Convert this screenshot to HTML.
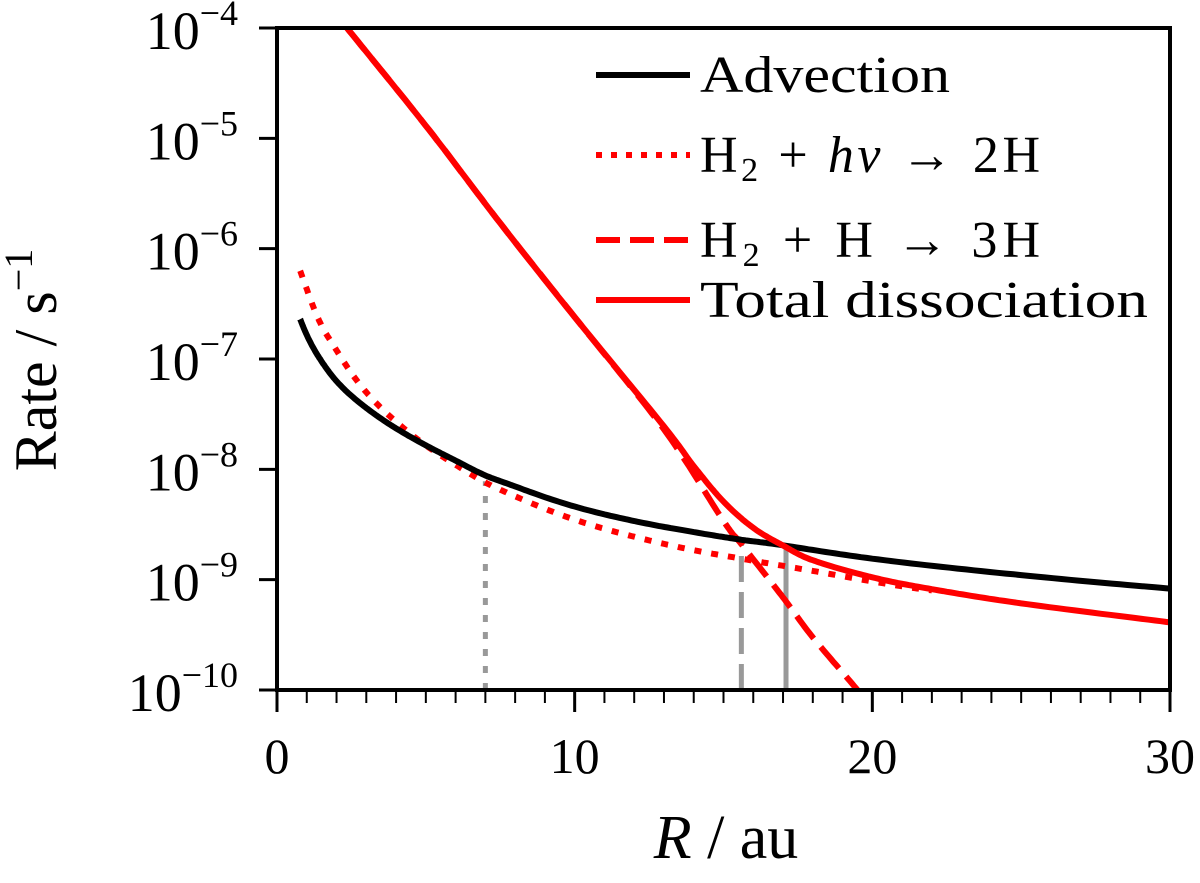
<!DOCTYPE html>
<html><head><meta charset="utf-8"><style>
body{margin:0;background:#fff}
svg text{font-family:"Liberation Serif",serif;fill:#000}
</style></head><body>
<svg id="c" width="1200" height="878" viewBox="0 0 1200 878" xmlns="http://www.w3.org/2000/svg">
<defs><clipPath id="clip"><rect x="276" y="27" width="895" height="663"/></clipPath></defs>
<g id="plot" clip-path="url(#clip)"></g>
<g id="axes"></g>
<g id="legend">
 <line x1="596" y1="75" x2="690" y2="75" stroke="#000" stroke-width="6"/>
 <text x="700" y="92" font-size="52" textLength="250" lengthAdjust="spacingAndGlyphs">Advection</text>
 <line x1="596" y1="155" x2="690" y2="155" stroke="#f00" stroke-width="6" stroke-dasharray="6,9"/>
 <text x="700" y="172" font-size="52" textLength="340" lengthAdjust="spacing">H<tspan font-size="34" dy="9">2</tspan><tspan dy="-9"> + </tspan><tspan font-style="italic">hν</tspan> → 2H</text>
 <line x1="596" y1="240" x2="690" y2="240" stroke="#f00" stroke-width="6" stroke-dasharray="24,10"/>
 <text x="700" y="257" font-size="52" textLength="340" lengthAdjust="spacing">H<tspan font-size="34" dy="9">2</tspan><tspan dy="-9"> + H → 3H</tspan></text>
 <line x1="596" y1="300" x2="690" y2="300" stroke="#f00" stroke-width="6"/>
 <text x="700" y="317" font-size="52" textLength="448" lengthAdjust="spacingAndGlyphs">Total dissociation</text>
</g>
</svg>
<script>
const advR=[0.78,1,1.5,2,3,4,5,6,7,8,10,12,14,15.6,17,20,25,30];
const advV=[2.3e-7,1.65e-7,9.5e-8,6.3e-8,3.6e-8,2.35e-8,1.65e-8,1.2e-8,8.8e-9,7.0e-9,4.6e-9,3.4e-9,2.7e-9,2.3e-9,2.05e-9,1.55e-9,1.1e-9,8.3e-10];
const phoR=[0.78,1,1.5,2,3,4,5,6,7,8,10,12,14,15.6,18,21,22];
const phoV=[6.3e-7,4.3e-7,2.0e-7,1.2e-7,5e-8,2.7e-8,1.65e-8,1.1e-8,7.6e-9,5.7e-9,3.5e-9,2.45e-9,1.85e-9,1.55e-9,1.2e-9,8.7e-10,8e-10];
const colR=[2.35,5,7.5,10,13,15,15.6,17,18,19.5,20];
const colV=[1e-4,1.3e-5,1.7e-6,2.4e-7,2.3e-8,3.4e-9,2.1e-9,6.9e-10,3e-10,1e-10,6.5e-11];
const totR=[2.35,5,7.5,10,13,14,15,16,17,18,20,22,25,30];
const totV=[1e-4,1.3e-5,1.7e-6,2.4e-7,2.45e-8,1.07e-8,5.1e-9,2.95e-9,2.04e-9,1.5e-9,1.05e-9,8.2e-10,6.1e-10,4.1e-10];
const markR=[7,15.6,17.1];
const markV=[7.8e-9,2.15e-9,2.0e-9];
const xTicks=[0,10,20,30];
const yTicks=[-4,-5,-6,-7,-8,-9,-10];

const NS="http://www.w3.org/2000/svg";
const X0=277,X1=1170,Y0=690,Y1=28;
function xs(r){return X0+(X1-X0)*r/30;}
function ys(v){return Y1+(-4-Math.log10(v))*(Y0-Y1)/6;}
function mk(t,a,p){const e=document.createElementNS(NS,t);for(const k in a)e.setAttribute(k,a[k]);p.appendChild(e);return e;}
function pathD(R,V,logx){
 const fx=logx?Math.log:(r=>r), ix=logx?Math.exp:(r=>r);
 const p=R.map((r,i)=>[fx(r),Math.log10(V[i])]);const pts=[];
 for(let i=0;i<p.length-1;i++){const a=p[Math.max(0,i-1)],b=p[i],c=p[i+1],e=p[Math.min(p.length-1,i+2)];
  for(let k=0;k<20;k++){const t=k/20,t2=t*t,t3=t2*t;
   const f=j=>0.5*((2*b[j])+(-a[j]+c[j])*t+(2*a[j]-5*b[j]+4*c[j]-e[j])*t2+(-a[j]+3*b[j]-3*c[j]+e[j])*t3);
   pts.push([xs(ix(f(0))),ys(Math.pow(10,f(1)))]);}}
 const l=p[p.length-1];pts.push([xs(ix(l[0])),ys(Math.pow(10,l[1]))]);
 return "M"+pts.map(q=>q[0].toFixed(1)+","+q[1].toFixed(1)).join(" L");}
const plot=document.getElementById('plot'),axes=document.getElementById('axes');
const dashes=["7,10","26,10","none"];
markR.forEach((r,i)=>{const l=mk('line',{x1:xs(r),x2:xs(r),y1:Y0,y2:ys(markV[i]),stroke:"#999","stroke-width":5,"stroke-dasharray":dashes[i]},plot);

});
let e;
e=mk('path',{d:pathD(colR,colV,false),fill:"none",stroke:"#f00","stroke-width":6,"stroke-dasharray":"28,11"},plot);


e=mk('path',{d:pathD(phoR,phoV,true),fill:"none",stroke:"#f00","stroke-width":6,"stroke-dasharray":"7,10"},plot);


e=mk('path',{d:pathD(advR,advV,true),fill:"none",stroke:"#000","stroke-width":6},plot);


e=mk('path',{d:pathD(totR,totV,false),fill:"none",stroke:"#f00","stroke-width":6},plot);


e=mk('rect',{x:X0,y:Y1,width:X1-X0,height:Y0-Y1,fill:"none",stroke:"#000","stroke-width":4},axes);


for(let r=0;r<=30;r++){const maj=r%10===0;mk('line',{x1:xs(r),x2:xs(r),y1:Y0,y2:Y0+(maj?22:13),stroke:"#000","stroke-width":maj?3:2},axes);}
xTicks.forEach(t=>{const tx=mk('text',{x:xs(t),y:773,"font-size":50,"text-anchor":"middle"},axes);tx.textContent=t;

});
yTicks.forEach(t=>{const y=ys(Math.pow(10,t));mk('line',{x1:X0-18,x2:X0,y1:y,y2:y,stroke:"#000","stroke-width":3},axes);
const tx=mk('text',{x:238,y:y+21,"font-size":54,"text-anchor":"end"},axes);
tx.innerHTML='10<tspan font-size="36" dy="-24">−'+(-t)+'</tspan>';

});
e=mk('text',{x:726,y:858,"font-size":62,"text-anchor":"middle"},axes);
e.innerHTML='<tspan font-style="italic">R</tspan> / au';


e=mk('text',{x:0,y:0,"font-size":60,"text-anchor":"middle",transform:"translate(56,360) rotate(-90)"},axes);
e.innerHTML='Rate / s<tspan font-size="40" dy="-24">−1</tspan>';


</script>
</body></html>
